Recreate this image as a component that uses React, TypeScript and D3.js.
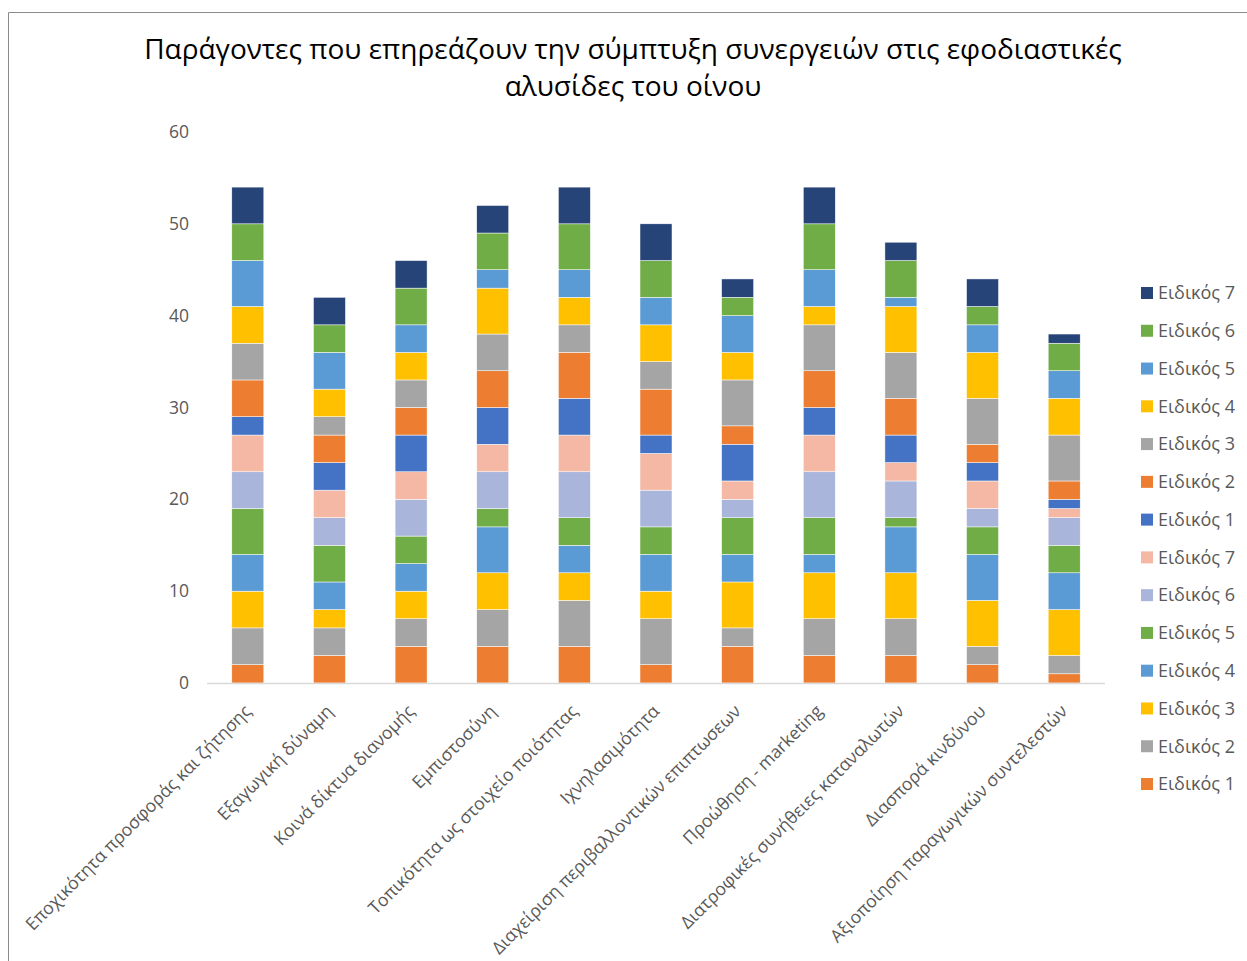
import React from "react";
import * as d3 from "d3";

const categories = [
  "Εποχικότητα προσφοράς και ζήτησης",
  "Εξαγωγική δύναμη",
  "Κοινά δίκτυα διανομής",
  "Εμπιστοσύνη",
  "Τοπικότητα ως στοιχείο ποιότητας",
  "Ιχνηλασιμότητα",
  "Διαχείριση περιβαλλοντικών επιπτωσεων",
  "Προώθηση - marketing",
  "Διατροφικές συνήθειες καταναλωτών",
  "Διασπορά κινδύνου",
  "Αξιοποίηση παραγωγικών συντελεστών",
];

// first group of experts
const e1a = [2, 3, 4, 4, 4, 2, 4, 3, 3, 2, 1];
const e2a = [4, 3, 3, 4, 5, 5, 2, 4, 4, 2, 2];
const e3a = [4, 2, 3, 4, 3, 3, 5, 5, 5, 5, 5];
const e4a = [4, 3, 3, 5, 3, 4, 3, 2, 5, 5, 4];
const e5a = [5, 4, 3, 2, 3, 3, 4, 4, 1, 3, 3];
const e6a = [4, 3, 4, 4, 5, 4, 2, 5, 4, 2, 3];
const e7a = [4, 3, 3, 3, 4, 4, 2, 4, 2, 3, 1];
// second group of experts
const e1b = [2, 3, 4, 4, 4, 2, 4, 3, 3, 2, 1];
const e2b = [4, 3, 3, 4, 5, 5, 2, 4, 4, 2, 2];
const e3b = [4, 2, 3, 4, 3, 3, 5, 5, 5, 5, 5];
const e4b = [4, 3, 3, 5, 3, 4, 3, 2, 5, 5, 4];
const e5b = [5, 4, 3, 2, 3, 3, 4, 4, 1, 3, 3];
const e6b = [4, 3, 4, 4, 5, 4, 2, 5, 4, 2, 3];
const e7b = [4, 3, 3, 3, 4, 4, 2, 4, 2, 3, 1];

const seriesNames = [
  "Ειδικός 1", "Ειδικός 2", "Ειδικός 3", "Ειδικός 4", "Ειδικός 5", "Ειδικός 6", "Ειδικός 7",
  "Ειδικός 1", "Ειδικός 2", "Ειδικός 3", "Ειδικός 4", "Ειδικός 5", "Ειδικός 6", "Ειδικός 7",
];
const seriesValues = [e1a, e2a, e3a, e4a, e5a, e6a, e7a, e1b, e2b, e3b, e4b, e5b, e6b, e7b];
const seriesColors = [
  "#ED7D31", "#A5A5A5", "#FFC000", "#5B9BD5", "#70AD47", "#A9B5DA", "#F4B8A4",
  "#4472C4", "#ED7D31", "#A5A5A5", "#FFC000", "#5B9BD5", "#70AD47", "#264478",
];
const yTicks = [0, 10, 20, 30, 40, 50, 60];

const W = 1247;
const H = 961;
const FONT = "'Open Sans', 'Noto Sans', sans-serif";

export default function App() {
  const keys = seriesValues.map((_, i) => "s" + i);
  const rows = categories.map((c, ci) => {
    const r: any = { cat: c };
    seriesValues.forEach((vals, si) => (r["s" + si] = vals[ci]));
    return r;
  });
  const stacked = d3.stack().keys(keys)(rows);

  const x = d3
    .scaleBand()
    .domain(categories)
    .range([207, 1105])
    .paddingInner(0.608)
    .paddingOuter(0.304);
  const y = d3.scaleLinear().domain([0, 60]).range([683, 132]);

  const legendX = 1141;
  const legendY0 = 293;
  const legendStep = 37.77;

  return (
    <svg
      width={W}
      height={H}
      style={{ position: "absolute", left: 0, top: 0, background: "#fff" }}
      fontFamily={FONT}
    >
      <rect x={0} y={0} width={W} height={H} fill="#fff" />
      {/* frame */}
      <line x1={8.5} y1={12.5} x2={W} y2={12.5} stroke="#8c8c8c" strokeWidth={1} />
      <line x1={8.5} y1={12.5} x2={8.5} y2={H} stroke="#8c8c8c" strokeWidth={1} />

      {/* title */}
      <text x={633} y={59} textAnchor="middle" fontSize={28} fill="#000">
        Παράγοντες που επηρεάζουν την σύμπτυξη συνεργειών στις εφοδιαστικές
      </text>
      <text x={633} y={96} textAnchor="middle" fontSize={28} fill="#000">
        αλυσίδες του οίνου
      </text>

      {/* y tick labels */}
      {yTicks.map((t) => (
        <text
          key={t}
          x={189}
          y={y(t)}
          dy="0.35em"
          textAnchor="end"
          fontSize={17.5}
          fill="#595959"
        >
          {t}
        </text>
      ))}

      {/* bars */}
      {stacked.map((s, si) => (
        <g key={si} fill={seriesColors[si]}>
          {s.map((d: any, ci: number) => (
            <rect
              key={ci}
              x={x(categories[ci])}
              y={y(d[1])}
              width={x.bandwidth()}
              height={y(d[0]) - y(d[1])}
              stroke="#ffffff"
              strokeWidth={0.5}
            />
          ))}
        </g>
      ))}

      {/* x axis */}
      <line x1={207} x2={1105} y1={683.5} y2={683.5} stroke="#D9D9D9" strokeWidth={1.5} />

      {/* x labels */}
      {categories.map((c) => {
        const cx = (x(c) as number) + x.bandwidth() / 2 + 0;
        const cy = 708;
        return (
          <text
            key={c}
            transform={`translate(${cx},${cy}) rotate(-45)`}
            textAnchor="end"
            dy="0.35em"
            fontSize={17.6}
            fill="#595959"
          >
            {c}
          </text>
        );
      })}

      {/* legend */}
      {seriesNames
        .map((n, i) => ({ n, i }))
        .reverse()
        .map(({ n, i }, k) => (
          <g key={k} transform={`translate(${legendX},${legendY0 + k * legendStep})`}>
            <rect x={0} y={-6} width={12} height={12} fill={seriesColors[i]} />
            <text x={17} y={0} dy="0.35em" fontSize={18} fill="#595959">
              {n}
            </text>
          </g>
        ))}
    </svg>
  );
}
